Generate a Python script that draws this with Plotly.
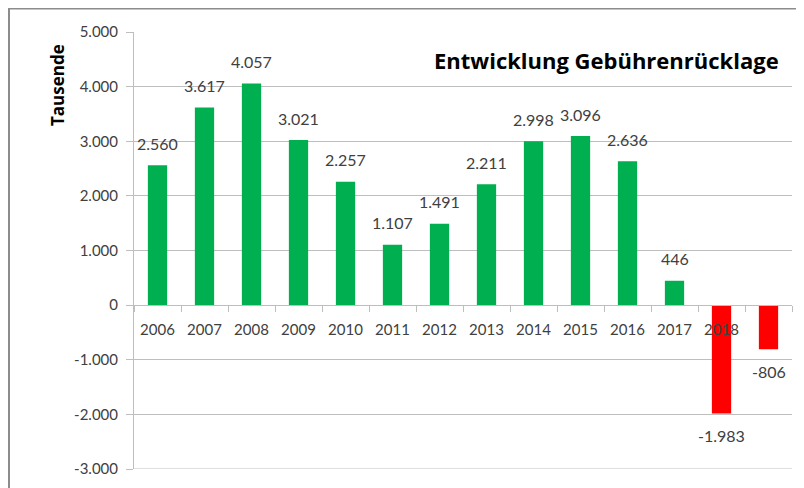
import plotly.graph_objects as go

years = ["2006", "2007", "2008", "2009", "2010", "2011", "2012", "2013",
         "2014", "2015", "2016", "2017", "2018", "2019"]
year_labels = ["2006", "2007", "2008", "2009", "2010", "2011", "2012", "2013",
               "2014", "2015", "2016", "2017", "2018", ""]
values = [2560, 3617, 4057, 3021, 2257, 1107, 1491, 2211,
          2998, 3096, 2636, 446, -1983, -806]
y_ticks = [-3000, -2000, -1000, 0, 1000, 2000, 3000, 4000, 5000]

title_text = "Entwicklung Gebührenrücklage"
y_title = "Tausende"


def de_fmt(v):
    s = f"{abs(v):,}".replace(",", ".")
    return ("-" if v < 0 else "") + s


colors = ["#00B050" if v >= 0 else "#FF0000" for v in values]
txt_color = "#404040"
grid_color = "#BEBEBE"
FONT = "Lato"
TFONT = "Open Sans"

# the page body has an 8px margin; the figure origin sits at page (8, 8)
OFF = 8
W, H = 804 - OFF, 488 - OFF
L, T = 134 - OFF, 32 - OFF
R = W - (792 - OFF)
B = H - (469 - OFF)
pw, ph = W - L - R, H - T - B


def px_to_paper(xp, yp):
    return (xp - OFF - L) / pw, (H - B - (yp - OFF)) / ph


fig = go.Figure()
fig.add_trace(go.Bar(
    x=years, y=values, marker=dict(color=colors, line=dict(width=0)),
    hoverinfo="skip", showlegend=False,
))

annotations = []
for i, v in enumerate(values):
    annotations.append(dict(
        x=i, y=v, xref="x", yref="y", text=de_fmt(v), showarrow=False,
        yanchor="middle", xanchor="center",
        yshift=22 if v >= 0 else -22,
        font=dict(family=FONT, size=16, color=txt_color),
    ))

tx, ty = px_to_paper(606, 60)
annotations.append(dict(
    x=tx, y=ty, xref="paper", yref="paper", text=f"<b>{title_text}</b>",
    showarrow=False, xanchor="center", yanchor="middle",
    font=dict(family=TFONT, size=22, color="#000000"),
))
ax_, ay_ = px_to_paper(57, 85)
annotations.append(dict(
    x=ax_, y=ay_, xref="paper", yref="paper", text=f"<b>{y_title}</b>",
    showarrow=False, textangle=-90, xanchor="center", yanchor="middle",
    font=dict(family=TFONT, size=17, color="#000000"),
))

bx0, by1 = px_to_paper(OFF + 1, OFF + 0.5)
bx1, by0 = px_to_paper(830, 520)

fig.update_layout(
    width=W, height=H,
    margin=dict(l=L, r=R, t=T, b=B, pad=0),
    paper_bgcolor="white", plot_bgcolor="white",
    bargap=0.59,
    annotations=annotations,
    font=dict(family=FONT, size=15, color=txt_color),
    xaxis=dict(
        type="category", anchor="free", position=3 / 8,
        tickmode="array", tickvals=years, ticktext=year_labels,
        showline=True, linecolor=grid_color, linewidth=1,
        ticks="outside", tickson="boundaries", ticklen=6, tickcolor=grid_color,
        showgrid=False, ticklabelstandoff=11,
        tickfont=dict(family=FONT, size=15, color=txt_color),
        range=[-0.5, len(years) - 0.5],
    ),
    yaxis=dict(
        range=[-3000, 5000], tickvals=y_ticks,
        ticktext=[de_fmt(v) for v in y_ticks],
        showline=True, linecolor=grid_color, linewidth=1,
        ticks="outside", ticklen=7, tickcolor=grid_color,
        showgrid=True, gridcolor=grid_color, gridwidth=1,
        zeroline=False, ticklabelstandoff=5,
        tickfont=dict(family=FONT, size=15, color=txt_color),
    ),
    shapes=[
        dict(
            type="rect", xref="paper", yref="paper",
            x0=bx0, x1=bx1, y0=by0, y1=by1,
            line=dict(color="#8C8C8C", width=2), fillcolor="rgba(0,0,0,0)",
            layer="below",
        ),
        dict(
            type="line", xref="paper", yref="y",
            x0=0, x1=1, y0=y_ticks[0], y1=y_ticks[0],
            line=dict(color=grid_color, width=1), layer="below",
        ),
    ],
)

fig.write_html("out.html")
